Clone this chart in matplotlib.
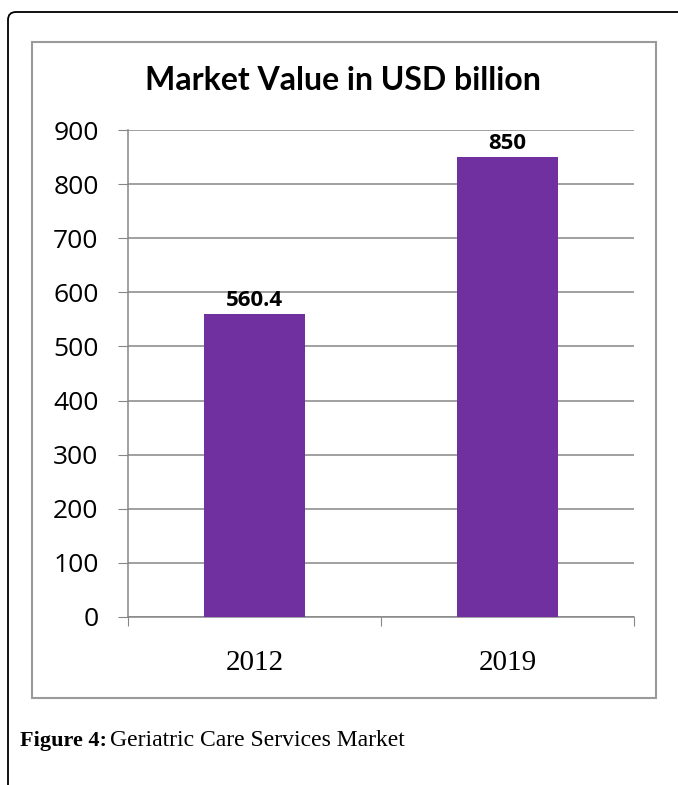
import matplotlib
matplotlib.use('Agg')
import matplotlib.pyplot as plt
from matplotlib.patches import FancyBboxPatch, Rectangle
from matplotlib.transforms import IdentityTransform

# data
years = ['2012', '2019']
values = [560.4, 850]
labels = ['560.4', '850']
yticks = [0, 100, 200, 300, 400, 500, 600, 700, 800, 900]

W, H = 678, 785
fig = plt.figure(figsize=(W / 100, H / 100), dpi=100)
fig.patch.set_facecolor('white')

# outer page frame with rounded top-left corner
frame = FancyBboxPatch((8, -50), 800, H - 12 + 50, boxstyle='round,pad=0,rounding_size=8',
                       transform=IdentityTransform(), facecolor='none', edgecolor='black',
                       linewidth=1.3)
fig.patches.append(frame)

# chart box
box = Rectangle((32, H - 698), 656 - 32, 698 - 42, transform=IdentityTransform(),
                facecolor='none', edgecolor='#9a9a9a', linewidth=1.5)
fig.patches.append(box)

ax = fig.add_axes([128 / W, 1 - 617 / H, (634 - 128) / W, (617 - 130) / H])
ax.set_facecolor('none')
x = range(len(years))
ax.bar(x, values, width=0.4, color='#7030A0', zorder=3)
ax.set_xlim(-0.5, 1.5)
ax.set_ylim(0, 900)
ax.set_yticks(yticks)
ax.set_yticklabels([str(t) for t in yticks], fontfamily='Open Sans', fontsize=19)
ax.set_xticks([-0.5, 0.5, 1.5])
ax.set_xticklabels([])
ax.tick_params(axis='x', length=6.5, color='#868686', direction='out')
ax.tick_params(axis='y', length=7.2, color='#868686', pad=14, direction='out')
ax.grid(axis='y', color='#868686', linewidth=1.1, zorder=0)
for s in ['top', 'right']:
    ax.spines[s].set_visible(False)
ax.spines['left'].set_color('#868686')
ax.spines['bottom'].set_color('#868686')
ax.spines['left'].set_linewidth(1.1)
ax.spines['bottom'].set_linewidth(1.1)

# category labels
for xi, yr in zip(x, years):
    ax.annotate(yr, (xi, 0), xycoords=('data', 'axes fraction'), xytext=(0, -33),
                textcoords='offset points', ha='center', va='center',
                fontfamily='Liberation Serif', fontsize=21)

for xi, v, lab in zip(x, values, labels):
    ax.annotate(lab, (xi, v), xytext=(0, 2), textcoords='offset points', ha='center',
                va='bottom', fontfamily='Open Sans', fontweight='bold', fontsize=16)

fig.text(343 / W, 1 - 80 / H, 'Market Value in USD billion', ha='center', va='center',
         fontfamily='Lato', fontweight='bold', fontsize=23)

fig.text(20 / W, 1 - 741 / H, 'Figure 4:', ha='left', va='center',
         fontfamily='Liberation Serif', fontweight='bold', fontsize=16)
fig.text(110 / W, 1 - 741 / H, 'Geriatric Care Services Market', ha='left', va='center',
         fontfamily='Liberation Serif', fontsize=17)

fig.savefig('out.png', dpi=100)
